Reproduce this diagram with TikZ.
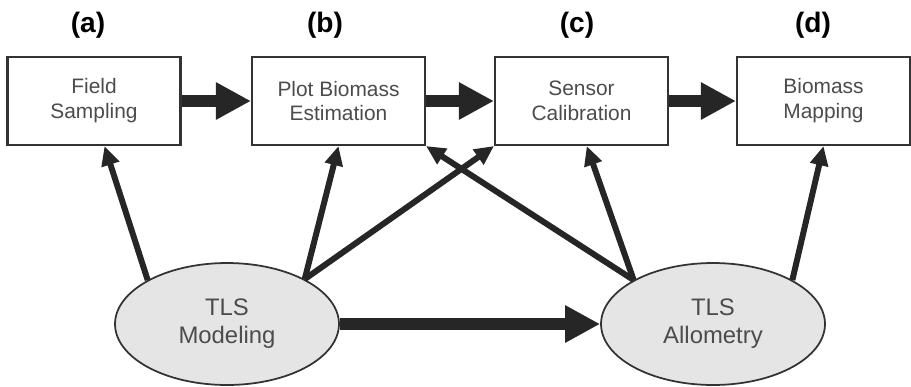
\documentclass[tikz,border=0pt]{standalone}
\usepackage{fontspec}
\setmainfont{Liberation Sans}
\usetikzlibrary{arrows.meta,calc,shapes.geometric}

\begin{document}
\begin{tikzpicture}[x=0.02cm,y=-0.02cm]
    \tikzstyle{stage}=[rectangle,draw=black!80,line width=1.2pt,fill=white,minimum width=3.46cm,minimum height=1.76cm,align=center,text=black!70,font=\fontsize{11.9}{14.2}\selectfont]
    \tikzstyle{tls}=[ellipse,draw=black!80,line width=1pt,fill=black!10,minimum width=4.48cm,minimum height=2.44cm,inner sep=0pt,align=center,text=black!70,font=\fontsize{13.6}{16}\selectfont]
    \tikzstyle{panel}=[font=\fontsize{16}{19}\selectfont\bfseries]
    \tikzstyle{feed}=[draw=black!85,line width=3.4pt,-{Triangle[length=11pt,width=10pt]}]
    \tikzstyle{flow}=[draw=black!85,line width=6.8pt,-{Triangle[length=20pt,width=20pt]}]
    \useasboundingbox (0,0) rectangle (911,386);
    % top row
    \node[stage] at (94,101) (fs) {Field\\Sampling};
    \node[stage] at (338.5,101) (pbe) {Plot Biomass\\Estimation};
    \node[stage] at (581.5,101) (sc) {Sensor\\Calibration};
    \node[stage] at (823.5,101) (bm) {Biomass\\Mapping};
    \node[panel] at (88,25) (la) {(a)};
    \node[panel] at (325,25) (lb) {(b)};
    \node[panel] at (577,25) (lc) {(c)};
    \node[panel] at (813,25) (ld) {(d)};
    % TLS products
    \node[tls] at (227,324) (mod) {TLS\\Modeling};
    \node[tls] at (713,324) (allo) {TLS\\Allometry};
    \foreach \i/\j in {fs/pbe,pbe/sc,sc/bm}{
      \draw[flow] (\i) -- (\j);
    }
    \draw[flow] (mod) -- (allo);
    \draw[feed] (mod.151) -- ($(fs.south west)!0.56!(fs.south east)$);
    \draw[feed] (mod.30) -- (pbe.south);
    \draw[feed] (mod.30) -- (sc.south west);
    \draw[feed] (allo.151) -- (pbe.south east);
    \draw[feed] (allo.151) -- ($(sc.south west)!0.53!(sc.south east)$);
    \draw[feed] (allo.29) -- (bm.south);
\end{tikzpicture}
\end{document}
